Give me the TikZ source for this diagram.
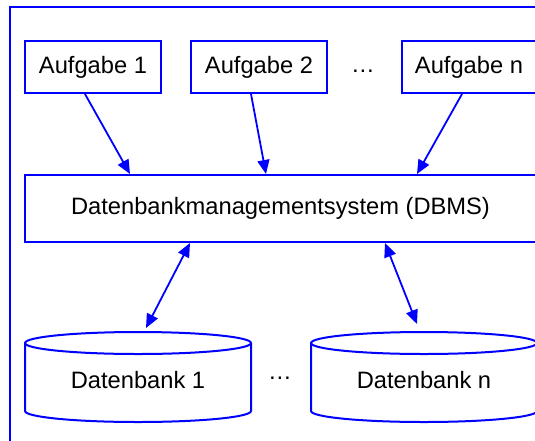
\documentclass[tikz,border=0pt]{standalone}
\usepackage{fontspec}
\setmainfont{Liberation Sans}
\usetikzlibrary{arrows.meta,calc}
\definecolor{fg}{RGB}{0,0,255}
\begin{document}
\begin{tikzpicture}[x=1pt,y=-1pt,
  box/.style={draw=fg,line width=2pt,minimum height=52pt,inner sep=0pt,font=\fontsize{23.7}{28}\selectfont},
  txt/.style={font=\fontsize{23.7}{28}\selectfont,inner sep=0pt},
  conn/.style={draw=fg,line width=1.8pt,-{Triangle[length=14pt,width=12pt]}},
  bconn/.style={draw=fg,line width=1.8pt,{Triangle[length=14pt,width=12pt]}-{Triangle[length=14pt,width=12pt]}},
  cyl/.style={draw=fg,line width=2pt}]
\useasboundingbox (0,0) rectangle (535,440);
\fill[white] (0,0) rectangle (535,440);
\clip (0,0) rectangle (535,440);
\draw[fg,line width=2.5pt] (10,7) rectangle (560,470);
% tasks
\node[box,minimum width=136pt] (a1) at (93,67) {Aufgabe 1};
\node[box,minimum width=136pt] (a2) at (259,67) {Aufgabe 2};
\node[box,minimum width=134pt] (an) at (469,67) {Aufgabe n};
\node[txt,anchor=base] (dots1) at (363,72) {…};
% DBMS
\node[box,minimum width=511pt,minimum height=67pt] (dbms) at (280.5,208.5) {Datenbankmanagementsystem (DBMS)};
% databases
\node[txt] (db1) at (138,380) {Datenbank 1};
\node[txt] (dbn) at (424,380) {Datenbank n};
\node[txt] (dots2) at (280,378) {…};
\foreach \d in {db1,dbn}{
  \draw[cyl] ($(\d.center)+(0,-37)$) ellipse [x radius=113, y radius=11];
  \draw[cyl] ($(\d.center)+(-113,-37)$) -- ($(\d.center)+(-113,31)$)
    arc[start angle=180, end angle=0, x radius=113, y radius=11]
    -- ($(\d.center)+(113,-37)$);
}
\coordinate (db1top) at ($(db1.center)+(8,-52)$);
\coordinate (dbntop) at ($(dbn.center)+(-7,-56)$);
% connectors
\draw[conn] ([xshift=-8pt]a1.south) -- ([xshift=-150.5pt]dbms.north);
\draw[conn] ([xshift=-8pt]a2.south) -- ([xshift=-14.5pt]dbms.north);
\draw[conn] ([xshift=-7pt]an.south) -- ([xshift=136.5pt]dbms.north);
\draw[bconn] ([xshift=-90.5pt]dbms.south) -- (db1top);
\draw[bconn] ([xshift=104.5pt]dbms.south) -- (dbntop);
\end{tikzpicture}
\end{document}
